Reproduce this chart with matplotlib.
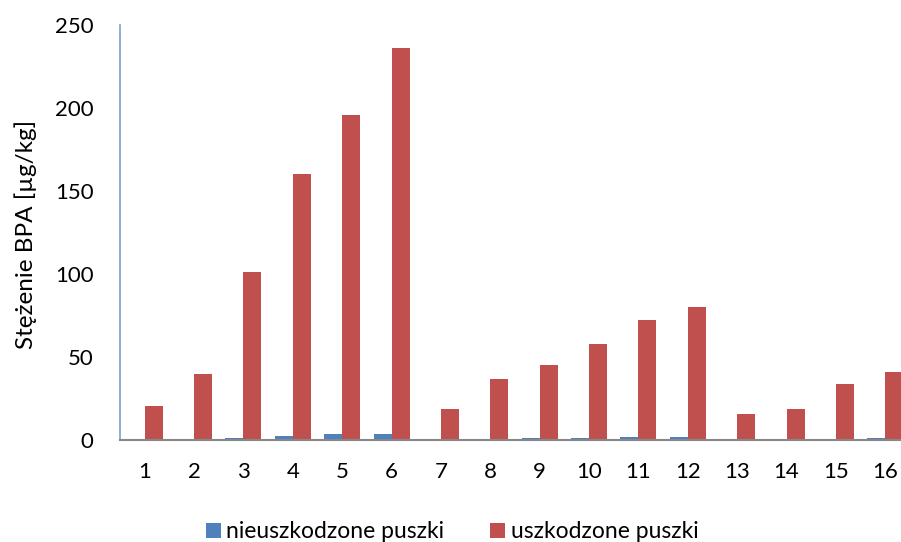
import matplotlib
matplotlib.use("Agg")
import matplotlib.pyplot as plt
import numpy as np

categories = [str(i) for i in range(1, 17)]
nieuszkodzone = [0.2, 0.3, 1.0, 2.6, 3.4, 3.6, 0.3, 0.6, 1.2, 1.3, 1.8, 2.0, 0.2, 0.3, 0.7, 1.5]
uszkodzone = [20.5, 40, 101, 160, 196, 236, 18.5, 37, 45, 58, 72, 80, 15.5, 18.5, 34, 41]
yticks = [0, 50, 100, 150, 200, 250]

plt.rcParams['font.family'] = ['Lato', 'DejaVu Sans']

fig = plt.figure(figsize=(9.01, 5.42), dpi=100)
ax = fig.add_axes([120/901, 1-440/542, (910-120)/901, (440-25)/542])

x = np.arange(len(categories))
w = 0.365
b1 = ax.bar(x - w/2, nieuszkodzone, w, color='#4F81BD', label='nieuszkodzone puszki')
b2 = ax.bar(x + w/2, uszkodzone, w, color='#C0504D', label='uszkodzone puszki')

ax.set_xlim(-0.5, len(categories) - 0.5)
ax.set_ylim(0, 250)
ax.set_yticks(yticks)
ax.set_xticks(x)
ax.set_xticklabels(categories)
ax.tick_params(axis='both', length=0, labelsize=16)
ax.tick_params(axis='x', pad=16)
ax.tick_params(axis='y', pad=19)
for s in ['top', 'right']:
    ax.spines[s].set_visible(False)
ax.spines['left'].set_color('#7BA0CD')
ax.spines['left'].set_linewidth(1.2)
ax.spines['bottom'].set_color('#888888')
ax.spines['bottom'].set_linewidth(1.5)
ax.set_ylabel('Stężenie BPA [µg/kg]', fontsize=17.5)
ax.yaxis.set_label_coords(-(120-37)/790, 0.495)

fig.legend(handles=[b1, b2], loc='center', bbox_to_anchor=(452/901, 1-532/542),
           ncol=2, frameon=False, fontsize=16.5, handlelength=0.65, handleheight=0.65,
           handletextpad=0.25, columnspacing=2.0, borderpad=0)

fig.savefig('out.png', dpi=100)
